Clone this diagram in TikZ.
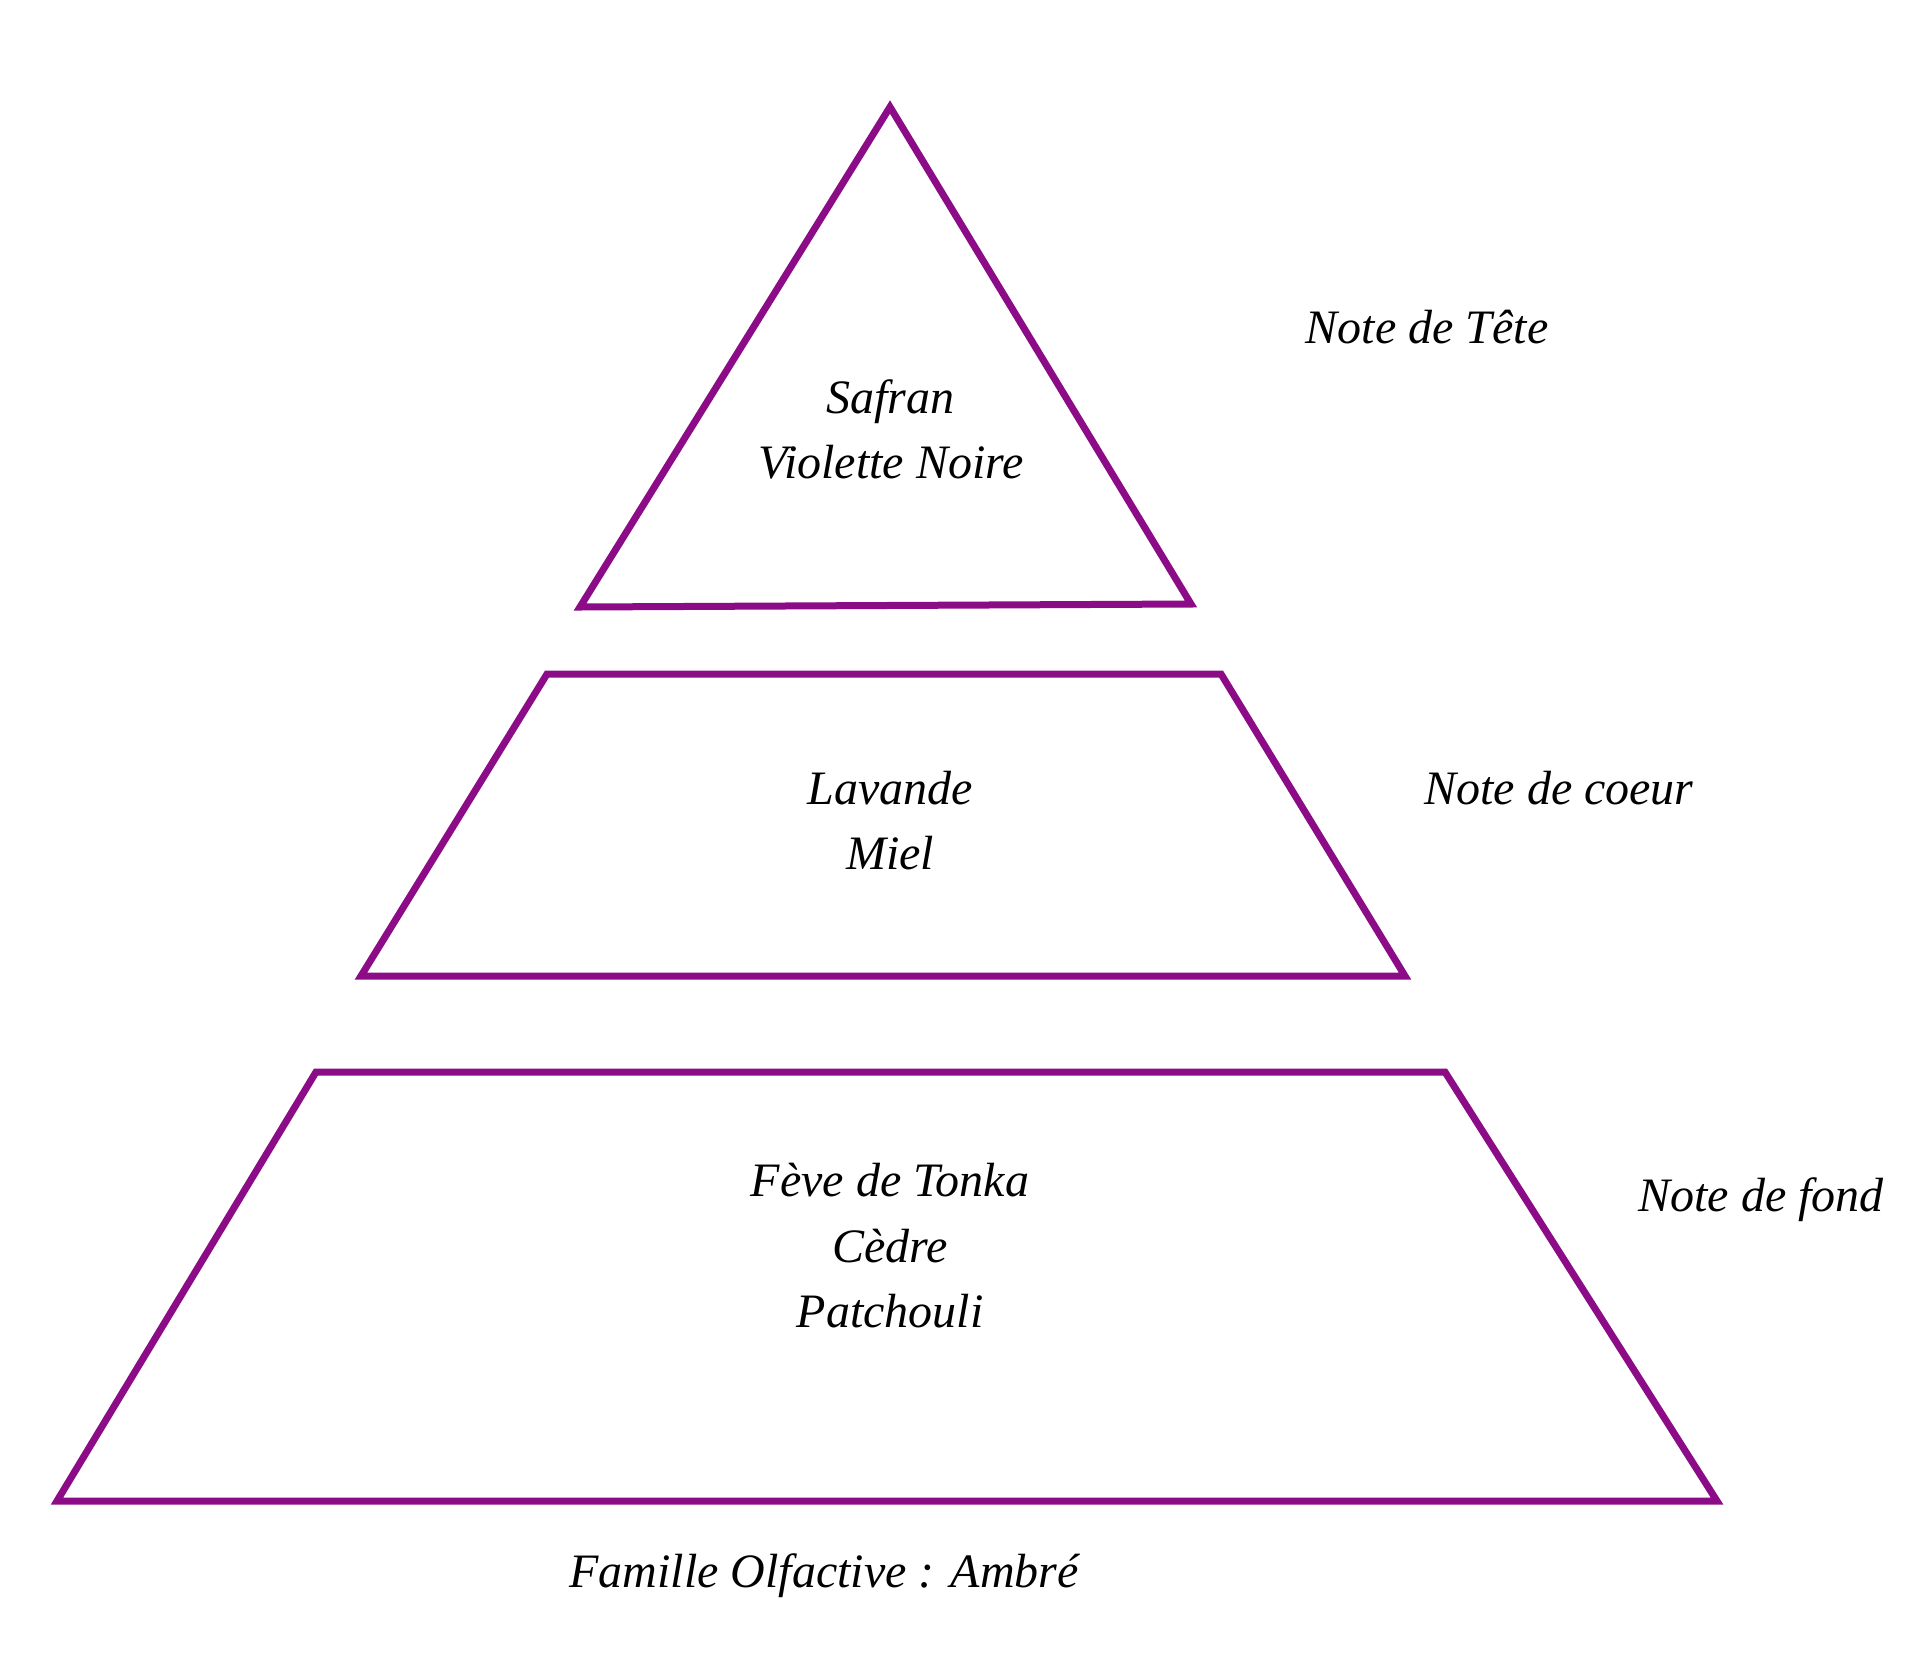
\documentclass[tikz,border=0pt]{standalone}
\usepackage{fontspec}
\setmainfont{Liberation Serif}
\definecolor{pyr}{RGB}{140,12,135}
\begin{document}
\begin{tikzpicture}[x=1pt,y=-1pt,
  tier/.style={draw=pyr,line width=7pt,line join=miter},
  lbl/.style={anchor=base,inner sep=0pt,font=\fontsize{48}{58}\selectfont\itshape}]
\useasboundingbox (0,0) rectangle (1920,1676);
\fill[white] (0,0) rectangle (1920,1676);
% shapes
\draw[tier] (890,107) -- (1191,604) -- (580,607) -- cycle;
\draw[tier] (547,674) -- (1221,674) -- (1405,976) -- (361,976) -- cycle;
\draw[tier] (316,1072) -- (1445,1072) -- (1717,1501) -- (57,1501) -- cycle;
% texts
\node[lbl] (safran) at (890,413) {Safran};
\node[lbl] (violette) at (891,478) {Violette Noire};
\node[lbl] (tete) at (1427,343) {Note de Tête};
\node[lbl] (lavande) at (890,804) {Lavande};
\node[lbl] (miel) at (890,869) {Miel};
\node[lbl] (coeur) at (1559,804) {Note de coeur};
\node[lbl] (feve) at (890,1196) {Fève de Tonka};
\node[lbl] (cedre) at (890,1262) {Cèdre};
\node[lbl] (patch) at (890,1327) {Patchouli};
\node[lbl] (fond) at (1761,1211) {Note de fond};
\node[lbl] (famille) at (824,1587) {Famille Olfactive : Ambré};
\end{tikzpicture}
\end{document}
